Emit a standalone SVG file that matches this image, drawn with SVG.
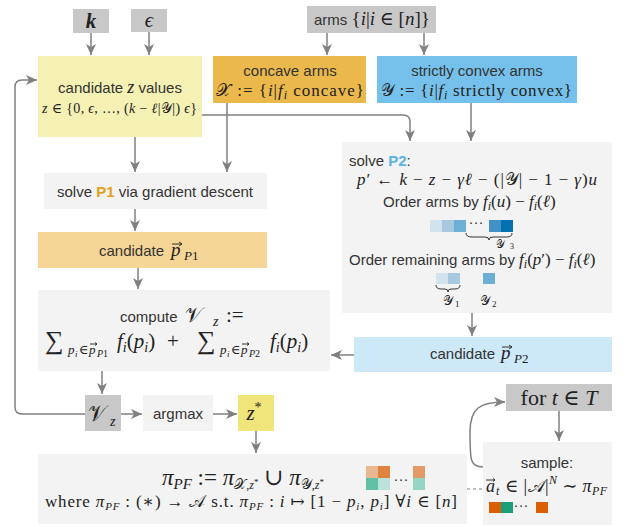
<svg xmlns="http://www.w3.org/2000/svg" width="630" height="527" viewBox="0 0 630 527">
<defs>
<marker id="ah" markerUnits="userSpaceOnUse" markerWidth="12" markerHeight="10" refX="11" refY="5" orient="auto">
<path d="M0,0 L11,5 L0,10 L3,5 Z" fill="#808080"/>
</marker>
<style>
.lbl{font-family:"Liberation Sans",Arial,sans-serif;font-size:15px;fill:#333;}
.m{font-family:"Liberation Serif","DejaVu Serif",serif;fill:#222;}
.it{font-style:italic;}
.conn{fill:none;stroke:#808080;stroke-width:1.5;marker-end:url(#ah);}
.vec{fill:none;stroke:#222;stroke-width:0.9;}
</style>
</defs>
<rect width="630" height="527" fill="#fff"/>

<g id="connectors">
<path class="conn" d="M91,33 V55"/>
<path class="conn" d="M149,32 V55"/>
<path class="conn" d="M327,33 V55"/>
<path class="conn" d="M424,33 V55"/>
<path class="conn" d="M135,137 V172"/>
<path class="conn" d="M227,103 V172"/>
<path class="conn" d="M202,115 H403 Q410,115 410,122 V141"/>
<path class="conn" d="M471,103 V141"/>
<path class="conn" d="M135,209 V231"/>
<path class="conn" d="M138,268 V289"/>
<path class="conn" d="M472,313 V336"/>
<path class="conn" d="M354,355 H331"/>
<path class="conn" d="M102,371 V394"/>
<path class="conn" d="M121,414 H142"/>
<path class="conn" d="M213,414 H237"/>
<path class="conn" d="M85,414 H22 Q15,414 15,407 V87 Q15,80 22,80 H37"/>
<path class="conn" d="M256,431 V453"/>
<path class="conn" d="M559,411 V441"/>
<path class="conn" d="M483,467 C470,467 470,460 470,432 C470,408 480,402 505,402"/>
<path d="M467,489 H483" fill="none" stroke="#808080" stroke-width="1" stroke-dasharray="3,3"/>
</g>

<g id="k">
<rect x="73" y="9" width="36" height="24" fill="#C8C8C8"/>
<text x="91" y="28" class="m it" font-size="21" font-weight="bold" text-anchor="middle">k</text>
</g>
<g id="eps">
<rect x="131" y="9" width="36" height="23" fill="#C8C8C8"/>
<text x="149" y="27" class="m it" font-size="21" text-anchor="middle">ϵ</text>
</g>
<g id="arms">
<rect x="307" y="6" width="129" height="27" fill="#C8C8C8"/>
<text x="314" y="25"><tspan class="lbl" font-size="16">arms </tspan><tspan class="m" font-size="19">{<tspan class="it">i</tspan>|<tspan class="it">i</tspan> ∈ [<tspan class="it">n</tspan>]}</tspan></text>
</g>

<g id="candz">
<rect x="38" y="56" width="164" height="81" fill="#F5F1B4"/>
<text x="120" y="93" text-anchor="middle"><tspan class="lbl">candidate </tspan><tspan class="m it" font-size="18">z</tspan><tspan class="lbl"> values</tspan></text>
<text x="42" y="113" class="m" font-size="14" textLength="155" lengthAdjust="spacing"><tspan class="it">z</tspan> ∈ {0, <tspan class="it">ϵ</tspan>, …, (<tspan class="it">k</tspan> − <tspan class="it">ℓ</tspan>|𝒴|) <tspan class="it">ϵ</tspan>}</text>
</g>
<g id="concave">
<rect x="213" y="56" width="153" height="47" fill="#EBB84B"/>
<text x="290" y="76" class="lbl" font-size="16" text-anchor="middle" fill="#222">concave arms</text>
<text x="216" y="96" class="m" font-size="17" textLength="148" lengthAdjust="spacing">𝒳 := {<tspan class="it">i</tspan>|<tspan class="it">f</tspan><tspan class="it" font-size="12" dy="3">i</tspan><tspan dy="-3"> concave}</tspan></text>
</g>
<g id="convex">
<rect x="377" y="56" width="200" height="47" fill="#75C1EC"/>
<text x="477" y="76" class="lbl" font-size="16" text-anchor="middle" fill="#222">strictly convex arms</text>
<text x="381" y="96" class="m" font-size="17" textLength="191" lengthAdjust="spacing">𝒴 := {<tspan class="it">i</tspan>|<tspan class="it">f</tspan><tspan class="it" font-size="12" dy="3">i</tspan><tspan dy="-3"> strictly convex}</tspan></text>
</g>

<g id="solveP1">
<rect x="44" y="173" width="223" height="36" fill="#F3F3F3"/>
<text x="155" y="197" class="lbl" font-size="15.5" text-anchor="middle">solve <tspan font-weight="bold" fill="#E6A01C">P1</tspan> via gradient descent</text>
</g>
<g id="candP1">
<rect x="38" y="232" width="229" height="36" fill="#F5D596"/>
<text x="99" y="256" class="lbl" fill="#222">candidate</text>
<text x="171" y="256" class="m it" font-size="19">p</text>
<path class="vec" d="M172,244 H182 M179,242 L182,244 L179,246"/>
<text x="184" y="260" class="m" font-size="13"><tspan class="it">P</tspan>1</text>
</g>

<g id="solveP2">
<rect x="342" y="142" width="270" height="171" fill="#F3F3F3"/>
<text x="349" y="166" class="lbl" font-size="16">solve <tspan font-weight="bold" fill="#5AB4E5">P2</tspan>:</text>
<text x="357" y="185" class="m" font-size="17" textLength="240" lengthAdjust="spacing"><tspan class="it">p</tspan>′ ← <tspan class="it">k</tspan> − <tspan class="it">z</tspan> − <tspan class="it">γℓ</tspan> − (|𝒴| − 1 − <tspan class="it">γ</tspan>)<tspan class="it">u</tspan></text>
<text x="383" y="207"><tspan class="lbl">Order arms by </tspan><tspan class="m" font-size="17"><tspan class="it">f</tspan><tspan class="it" font-size="12" dy="3">i</tspan><tspan dy="-3">(</tspan><tspan class="it">u</tspan>) − <tspan class="it">f</tspan><tspan class="it" font-size="12" dy="3">i</tspan><tspan dy="-3">(</tspan><tspan class="it">ℓ</tspan>)</tspan></text>
<rect x="430" y="220" width="12" height="12" fill="#D3E3EE"/>
<rect x="442" y="220" width="12" height="12" fill="#A6C9E0"/>
<rect x="454" y="220" width="12" height="12" fill="#6DAED5"/>
<text x="476" y="227" class="lbl" font-size="11" text-anchor="middle">···</text>
<rect x="489" y="220" width="12" height="12" fill="#4292C6"/>
<rect x="501" y="220" width="12" height="12" fill="#0570B0"/>
<path d="M466,233 Q466,237 472,237 H485 Q489,237 489,240 Q489,237 493,237 H507 Q512,237 512,233" fill="none" stroke="#333" stroke-width="1"/>
<text x="496" y="248" class="m" font-size="11">𝒴</text>
<text x="510" y="249" class="m" font-size="8">3</text>
<text x="349" y="265"><tspan class="lbl">Order remaining arms by </tspan><tspan class="m" font-size="17"><tspan class="it">f</tspan><tspan class="it" font-size="12" dy="3">i</tspan><tspan dy="-3">(</tspan><tspan class="it">p</tspan>′) − <tspan class="it">f</tspan><tspan class="it" font-size="12" dy="3">i</tspan><tspan dy="-3">(</tspan><tspan class="it">ℓ</tspan>)</tspan></text>
<rect x="436" y="273" width="12" height="11" fill="#D3E3EE"/>
<rect x="448" y="273" width="12" height="11" fill="#A6C9E0"/>
<rect x="483" y="273" width="12" height="11" fill="#6DAED5"/>
<path d="M436,285 Q436,289 441,289 H445 Q448,289 448,292 Q448,289 451,289 H455 Q460,289 460,285" fill="none" stroke="#333" stroke-width="1"/>
<text x="443" y="305" class="m" font-size="13">𝒴</text>
<text x="455" y="307" class="m" font-size="9">1</text>
<text x="480" y="305" class="m" font-size="13">𝒴</text>
<text x="492" y="307" class="m" font-size="9">2</text>
</g>

<g id="candP2">
<rect x="354" y="337" width="258" height="35" fill="#CDE8F7"/>
<text x="430" y="359" class="lbl" fill="#222">candidate</text>
<text x="501" y="359" class="m it" font-size="19">p</text>
<path class="vec" d="M502,347 H512 M509,345 L512,347 L509,349"/>
<text x="514" y="363" class="m" font-size="13"><tspan class="it">P</tspan>2</text>
</g>

<g id="compute">
<rect x="38" y="290" width="292" height="81" fill="#F3F3F3"/>
<text x="120" y="322" class="lbl" font-size="16.5">compute</text>
<text x="185" y="322" class="m" font-size="21">𝒱</text>
<text x="213" y="326" class="m it" font-size="14">z</text>
<text x="226" y="322" class="m" font-size="21">:=</text>
<text x="45" y="349" class="m" font-size="26">∑</text>
<text x="68" y="354" class="m it" font-size="13">p</text>
<text x="75" y="357" class="m it" font-size="9">i</text>
<text x="79" y="354" class="m" font-size="13">∈</text>
<text x="89" y="354" class="m it" font-size="13">p</text>
<path class="vec" d="M90,344 H97 M95,342.5 L97,344 L95,345.5"/>
<text x="97" y="357" class="m" font-size="10"><tspan class="it">P</tspan>1</text>
<text x="117" y="348" class="m" font-size="21"><tspan class="it">f</tspan><tspan class="it" font-size="14" dy="4">i</tspan><tspan dy="-4">(</tspan><tspan class="it">p</tspan><tspan class="it" font-size="14" dy="4">i</tspan><tspan dy="-4">)</tspan></text>
<text x="167" y="348" class="m" font-size="21">+</text>
<text x="197" y="349" class="m" font-size="26">∑</text>
<text x="220" y="354" class="m it" font-size="13">p</text>
<text x="227" y="357" class="m it" font-size="9">i</text>
<text x="231" y="354" class="m" font-size="13">∈</text>
<text x="241" y="354" class="m it" font-size="13">p</text>
<path class="vec" d="M242,344 H249 M247,342.5 L249,344 L247,345.5"/>
<text x="249" y="357" class="m" font-size="10"><tspan class="it">P</tspan>2</text>
<text x="270" y="348" class="m" font-size="21"><tspan class="it">f</tspan><tspan class="it" font-size="14" dy="4">i</tspan><tspan dy="-4">(</tspan><tspan class="it">p</tspan><tspan class="it" font-size="14" dy="4">i</tspan><tspan dy="-4">)</tspan></text>
</g>

<g id="Vz">
<rect x="85" y="395" width="36" height="36" fill="#C8C8C8"/>
<text x="88" y="421" class="m" font-size="22">𝒱</text>
<text x="110" y="426" class="m it" font-size="14">z</text>
</g>
<g id="argmax">
<rect x="143" y="395" width="70" height="36" fill="#F3F3F3"/>
<text x="178" y="419" class="lbl" font-size="16" text-anchor="middle">argmax</text>
</g>
<g id="zstar">
<rect x="238" y="395" width="36" height="36" fill="#F0E57A"/>
<text x="254" y="420" class="m it" font-size="21" text-anchor="middle">z<tspan font-size="14" dy="-8" font-style="normal">*</tspan></text>
</g>

<g id="policy">
<rect x="38" y="454" width="429" height="70" fill="#F3F3F3"/>
<text x="162" y="485" class="m" font-size="23"><tspan class="it">π</tspan><tspan class="it" font-size="15" dy="4">PF</tspan><tspan dy="-4"> := </tspan><tspan class="it">π</tspan><tspan font-size="14" dy="4">𝒳</tspan><tspan font-size="12">,</tspan><tspan class="it" font-size="12">z</tspan><tspan font-size="9" dy="-4">*</tspan><tspan dy="0"> ∪ </tspan><tspan class="it">π</tspan><tspan font-size="14" dy="4">𝒴</tspan><tspan font-size="12">,</tspan><tspan class="it" font-size="12">z</tspan><tspan font-size="9" dy="-4">*</tspan></text>
<rect x="366" y="466" width="12" height="12" fill="#E9B891"/>
<rect x="378" y="466" width="12" height="12" fill="#DE843E"/>
<rect x="366" y="478" width="12" height="12" fill="#5FC0A4"/>
<rect x="378" y="478" width="12" height="12" fill="#BAE2D8"/>
<text x="401" y="484" class="lbl" font-size="11" text-anchor="middle">···</text>
<rect x="413" y="466" width="12" height="12" fill="#E39A64"/>
<rect x="413" y="478" width="12" height="12" fill="#95D5C4"/>
<text x="45" y="507" class="m" font-size="17" textLength="412" lengthAdjust="spacing">where <tspan class="it">π</tspan><tspan class="it" font-size="11" dy="3">PF</tspan><tspan dy="-3"> : (∗) → 𝒜  s.t.  </tspan><tspan class="it">π</tspan><tspan class="it" font-size="11" dy="3">PF</tspan><tspan dy="-3"> : </tspan><tspan class="it">i</tspan> ↦ [1 − <tspan class="it">p</tspan><tspan class="it" font-size="11" dy="3">i</tspan><tspan dy="-3">, </tspan><tspan class="it">p</tspan><tspan class="it" font-size="11" dy="3">i</tspan><tspan dy="-3">]    ∀</tspan><tspan class="it">i</tspan> ∈ [<tspan class="it">n</tspan>]</text>
</g>

<g id="fort">
<rect x="506" y="384" width="106" height="27" fill="#C8C8C8"/>
<text x="559" y="405" class="m" font-size="22" text-anchor="middle">for <tspan class="it">t</tspan> ∈ <tspan class="it">T</tspan></text>
</g>
<g id="sample">
<rect x="483" y="442" width="129" height="83" fill="#F3F3F3"/>
<text x="547" y="468" class="lbl" font-size="16" text-anchor="middle">sample:</text>
<text x="486" y="492" class="m it" font-size="18">a</text>
<path class="vec" d="M486,480 H495 M493,478.5 L495,480 L493,481.5"/>
<text x="496" y="495" class="m it" font-size="12">t</text>
<text x="505" y="492" class="m" font-size="18" textLength="102" lengthAdjust="spacing">∈ |𝒜|<tspan class="it" font-size="12" dy="-8">N</tspan><tspan dy="8"> ∼ </tspan><tspan class="it">π</tspan><tspan class="it" font-size="12" dy="3">PF</tspan></text>
<rect x="489" y="502" width="12" height="11" fill="#D95F02"/>
<rect x="501" y="502" width="12" height="11" fill="#1B9E77"/>
<text x="521" y="510" class="lbl" font-size="11" text-anchor="middle">···</text>
<rect x="536" y="502" width="12" height="11" fill="#D95F02"/>
</g>
</svg>
